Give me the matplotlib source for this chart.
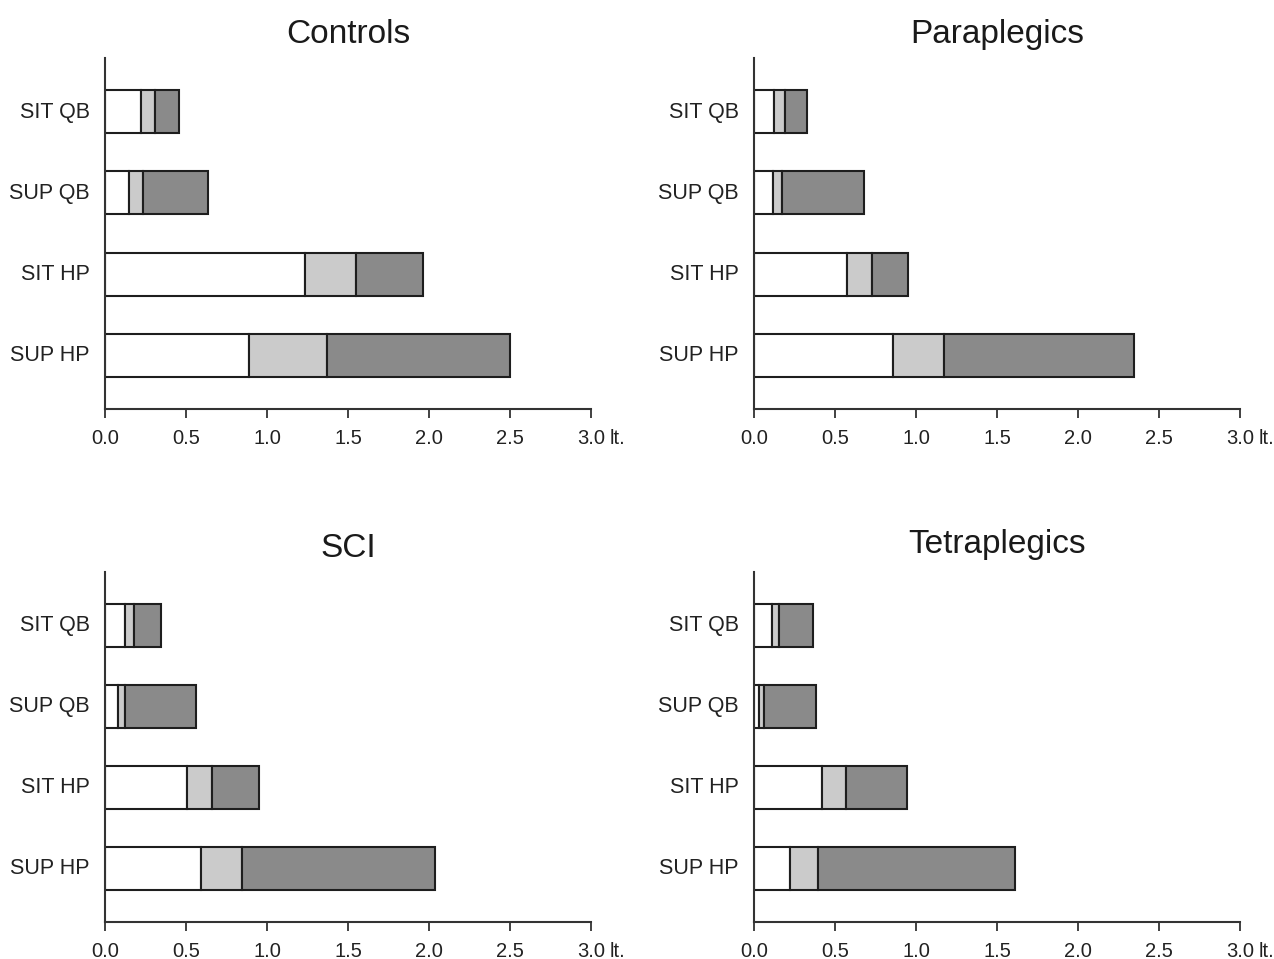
import matplotlib.pyplot as plt
import matplotlib.transforms as mtransforms
import numpy as np

plt.rcParams['font.family'] = ['Liberation Sans', 'DejaVu Sans']

conditions = ['SIT QB', 'SUP QB', 'SIT HP', 'SUP HP']
groups = ['Controls', 'Paraplegics', 'SCI', 'Tetraplegics']

# three stacked components per bar (litres), per group
white_part = {
    'Controls':     [0.22, 0.146, 1.233, 0.887],
    'Paraplegics':  [0.125, 0.117, 0.576, 0.861],
    'SCI':          [0.121, 0.078, 0.509, 0.592],
    'Tetraplegics': [0.11, 0.03, 0.417, 0.222],
}
light_part = {
    'Controls':     [0.09, 0.086, 0.317, 0.482],
    'Paraplegics':  [0.065, 0.055, 0.153, 0.309],
    'SCI':          [0.058, 0.046, 0.154, 0.255],
    'Tetraplegics': [0.045, 0.03, 0.152, 0.17],
}
dark_part = {
    'Controls':     [0.144, 0.403, 0.414, 1.131],
    'Paraplegics':  [0.139, 0.509, 0.219, 1.176],
    'SCI':          [0.164, 0.436, 0.285, 1.192],
    'Tetraplegics': [0.207, 0.324, 0.377, 1.218],
}

xticks = [0.0, 0.5, 1.0, 1.5, 2.0, 2.5, 3.0]
xtick_labels = ['0.0', '0.5', '1.0', '1.5', '2.0', '2.5', '3.0']

W, H = 1274, 959
fig = plt.figure(figsize=(W / 100, H / 100), dpi=100)

# axes boxes in pixels: left, top, right, bottom
boxes = {
    'Controls':     (105, 58, 591, 409),
    'Paraplegics':  (754, 58, 1240, 409),
    'SCI':          (105, 572, 591, 922),
    'Tetraplegics': (754, 572, 1240, 922),
}
title_pad = {'Controls': 11, 'Paraplegics': 11, 'SCI': 10.5, 'Tetraplegics': 14}

colors = ['white', '#cbcbcb', '#8a8a8a']
edge = '#1e1e1e'

for g in groups:
    l, t, r, b = boxes[g]
    ax = fig.add_axes([l / W, 1 - b / H, (r - l) / W, (b - t) / H])
    y = np.arange(len(conditions))
    left = np.zeros(len(conditions))
    for part, c in zip([white_part[g], light_part[g], dark_part[g]], colors):
        ax.barh(y, part, left=left, height=0.53, color=c,
                edgecolor=edge, linewidth=1.5)
        left = left + np.array(part)

    ax.set_xlim(0, 3.0)
    ax.set_ylim(3.66, -0.66)
    ax.set_yticks(y)
    ax.set_yticklabels(conditions, fontsize=15.5, color='#222222')
    ax.tick_params(axis='y', length=0, pad=11)
    # nudge category labels up a little
    shift = mtransforms.ScaledTranslation(0, 1.5 / 72, fig.dpi_scale_trans)
    for lab in ax.get_yticklabels():
        lab.set_transform(lab.get_transform() + shift)
    ax.set_xticks(xticks)
    ax.set_xticklabels(xtick_labels, fontsize=14.5, color='#222222')
    ax.tick_params(axis='x', length=6.5, width=1.3, color='#333333', pad=8)
    ax.annotate('lt.', xy=(3.0, 0), xycoords=('data', 'axes fraction'),
                xytext=(13.5, -14.5), textcoords='offset points',
                ha='left', va='top', fontsize=14.5, color='#222222')

    for s in ['top', 'right']:
        ax.spines[s].set_visible(False)
    for s in ['left', 'bottom']:
        ax.spines[s].set_linewidth(1.5)
        ax.spines[s].set_color('#333333')

    ax.set_title(g, fontsize=24, color='#1a1a1a', pad=title_pad[g])

fig.savefig('out.png', dpi=100, facecolor='white')
